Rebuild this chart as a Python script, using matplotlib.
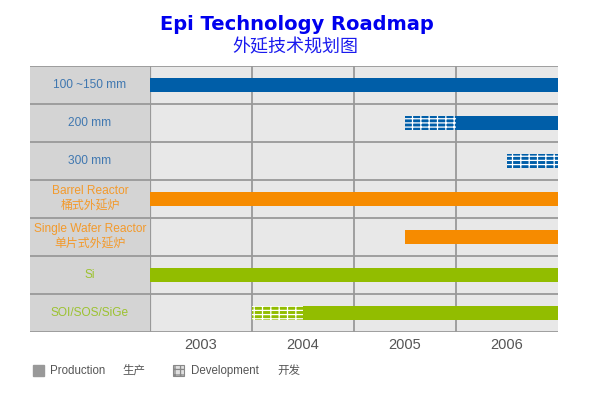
import matplotlib.pyplot as plt
import matplotlib.patches as mpatches

plt.rcParams['font.family'] = ['Liberation Sans', 'Noto Sans CJK SC']
plt.rcParams['hatch.linewidth'] = 0.9

# rows, top to bottom
rows = ["100 ~150 mm", "200 mm", "300 mm", "Barrel Reactor\n桶式外延炉",
        "Single Wafer Reactor\n单片式外延炉", "Si", "SOI/SOS/SiGe"]
# phases in years from start of 2003 (None = no phase)
dev_start = [None, 2.5, 3.5, None, None, None, 1.0]
prod_start = [0.0, 3.0, None, 0.0, 2.5, 0.0, 1.5]
end_year = 4.0
years = ["2003", "2004", "2005", "2006"]

blue = "#005ea8"
orange = "#f68b00"
green = "#92bd00"
bar_colors = [blue, blue, blue, orange, orange, green, green]
label_colors = ["#3f77b0", "#3f77b0", "#3f77b0", "#f39a2c", "#f39a2c", "#9cc230", "#9cc230"]

fig = plt.figure(figsize=(5.9, 4.0), dpi=100)
W, H = 590, 400
left_px, col_px, right_px = 30, 150, 558
top_px, bot_px = 66, 332

ax_lab = fig.add_axes([left_px / W, 1 - bot_px / H, (col_px - left_px) / W, (bot_px - top_px) / H])
ax = fig.add_axes([col_px / W, 1 - bot_px / H, (right_px - col_px) / W, (bot_px - top_px) / H])

n = len(rows)
for a in (ax_lab, ax):
    a.set_ylim(n, 0)
    for s in a.spines.values():
        s.set_visible(False)
    a.tick_params(length=0)
ax_lab.set_facecolor("#d4d4d4")
ax.set_facecolor("#e8e8e8")
ax_lab.set_xlim(0, 1)
ax_lab.set_xticks([])
ax_lab.set_yticks([])
ax.set_xlim(0, 4)
ax.set_yticks([])
ax.set_xticks([0.5, 1.5, 2.5, 3.5])
ax.set_xticklabels(years, fontsize=10.5, color="#555555")
ax.tick_params(axis='x', pad=4)

grid_c = "#999999"
for a in (ax_lab, ax):
    for y in range(n + 1):
        a.axhline(y, color=grid_c, lw=1.3, zorder=1)
for x in [1, 2, 3]:
    ax.axvline(x, color=grid_c, lw=1.3, zorder=1)
ax.axvline(0, color=grid_c, lw=1.6, zorder=1)

bh = 0.36
for i in range(n):
    c = bar_colors[i]
    if dev_start[i] is not None:
        dend = prod_start[i] if prod_start[i] is not None else end_year
        ax.barh(i + 0.5, dend - dev_start[i], left=dev_start[i], height=bh,
                color=c, edgecolor="white", hatch="++--", lw=0, zorder=3)
    if prod_start[i] is not None:
        ax.barh(i + 0.5, end_year - prod_start[i], left=prod_start[i], height=bh,
                color=c, lw=0, zorder=3)
    ax_lab.text(0.5, i + 0.5, rows[i], ha="center", va="center", fontsize=8.6,
                color=label_colors[i], linespacing=1.4)

fig.text(0.503, 0.94, "Epi Technology Roadmap", ha="center", va="center",
         fontsize=14, fontweight="bold", color="#0000ee", family="DejaVu Sans")
fig.text(0.501, 0.882, "外延技术规划图", ha="center", va="center",
         fontsize=13, color="#1a1aee", family=["Noto Sans CJK SC"])

# legend
ly = 1 - 371 / H
fig.patches.append(mpatches.Rectangle((33 / W, 1 - 376 / H), 11 / W, 11 / H,
                                      transform=fig.transFigure, color="#999999"))
fig.text(50 / W, ly, "Production", fontsize=8.3, color="#555555", va="center")
fig.text(122 / W, ly, "生产", fontsize=8.3, color="#555555", va="center")
fig.patches.append(mpatches.Rectangle((173 / W, 1 - 376 / H), 11 / W, 11 / H,
                                      transform=fig.transFigure, facecolor="#e0e0e0",
                                      edgecolor="#888888", hatch="+++", lw=0.8))
fig.text(191 / W, ly, "Development", fontsize=8.3, color="#555555", va="center")
fig.text(277 / W, ly, "开发", fontsize=8.3, color="#555555", va="center")

fig.savefig("out.png", dpi=100)
